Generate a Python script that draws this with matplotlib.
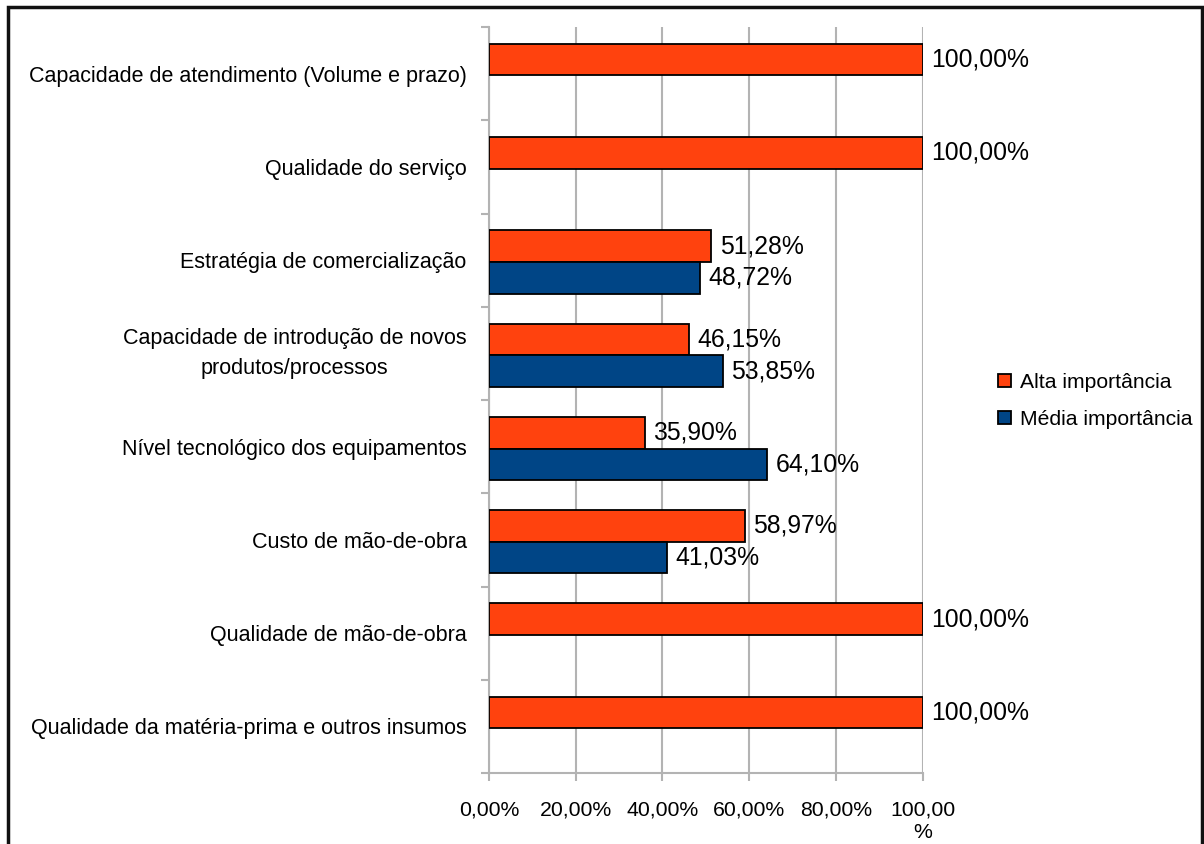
import matplotlib
matplotlib.use("Agg")
import matplotlib.pyplot as plt
from matplotlib.patches import Rectangle, Patch
from matplotlib.ticker import FixedLocator, NullFormatter

plt.rcParams['font.family'] = ['Liberation Sans', 'DejaVu Sans']

categories = [
    "Capacidade de atendimento (Volume e prazo)",
    "Qualidade do serviço",
    "Estratégia de comercialização",
    "Capacidade de introdução de novos\nprodutos/processos",
    "Nível tecnológico dos equipamentos",
    "Custo de mão-de-obra",
    "Qualidade de mão-de-obra",
    "Qualidade da matéria-prima e outros insumos",
]
alta = [100.00, 100.00, 51.28, 46.15, 35.90, 58.97, 100.00, 100.00]
media = [0.0, 0.0, 48.72, 53.85, 64.10, 41.03, 0.0, 0.0]
series_names = ["Alta importância", "Média importância"]
xtick_vals = [0, 20, 40, 60, 80, 100]
xtick_labels = ["0,00%", "20,00%", "40,00%", "60,00%", "80,00%", "100,00\n%"]

ORANGE = "#FF420E"
BLUE = "#004586"
GRID = "#B3B3B3"

fig = plt.figure(figsize=(12.04, 8.44), dpi=100)
ax = fig.add_axes([0.406, 0.0841, 0.7666 - 0.406, 0.968 - 0.0841])

h = 0.34
shift = 0.02
fmt = lambda v: f"{v:.2f}".replace(".", ",") + "%"

for i, (a, m) in enumerate(zip(alta, media)):
    if a > 0:
        ya = i + shift - h / 2
        ax.barh(ya, a, height=h, color=ORANGE, edgecolor="black", linewidth=1.3, zorder=3)
        ax.annotate(fmt(a), (a, ya), xytext=(6, 0), textcoords="offset points",
                    va="center", ha="left", fontsize=17.8, zorder=4)
    if m > 0:
        ym = i + shift + h / 2
        ax.barh(ym, m, height=h, color=BLUE, edgecolor="black", linewidth=1.3, zorder=3)
        ax.annotate(fmt(m), (m, ym), xytext=(6, 0), textcoords="offset points",
                    va="center", ha="left", fontsize=17.8, zorder=4)

ax.set_xlim(0, 100)
ax.set_ylim(len(categories) - 0.5, -0.5)

ax.set_xticks(xtick_vals)
ax.set_xticklabels(xtick_labels, fontsize=15.3)
ax.tick_params(axis="x", direction="out", length=6, width=1.5, color=GRID, pad=14)

ax.set_yticks(range(len(categories)))
ax.set_yticklabels(categories, fontsize=15.5, multialignment="center", linespacing=1.55)
for lbl in ax.get_yticklabels():
    if "\n" in lbl.get_text():
        lbl.set_va("center")
ax.tick_params(axis="y", which="major", length=0, pad=16)
ax.yaxis.set_minor_locator(FixedLocator([i - 0.5 for i in range(len(categories) + 1)]))
ax.yaxis.set_minor_formatter(NullFormatter())
ax.tick_params(axis="y", which="minor", direction="out", length=6, width=1.5, color=GRID)

ax.grid(axis="x", color=GRID, linewidth=1.5, zorder=0)
ax.set_axisbelow(True)
for s in ["top", "right"]:
    ax.spines[s].set_visible(False)
for s in ["left", "bottom"]:
    ax.spines[s].set_color(GRID)
    ax.spines[s].set_linewidth(1.5)

handles = [Patch(facecolor=ORANGE, edgecolor="black", linewidth=1.3),
           Patch(facecolor=BLUE, edgecolor="black", linewidth=1.3)]
fig.legend(handles, series_names, loc="center left", bbox_to_anchor=(0.813, 0.525),
           frameon=False, fontsize=15.2, handlelength=0.6, handleheight=0.6,
           handletextpad=0.45, labelspacing=0.87)

fig.patches.append(Rectangle((8 / 1204, -0.05), (1202 - 8) / 1204, 1.05 - 7 / 844,
                             transform=fig.transFigure, fill=False,
                             edgecolor="#111111", linewidth=2.5))

fig.savefig("out.png", dpi=100)
